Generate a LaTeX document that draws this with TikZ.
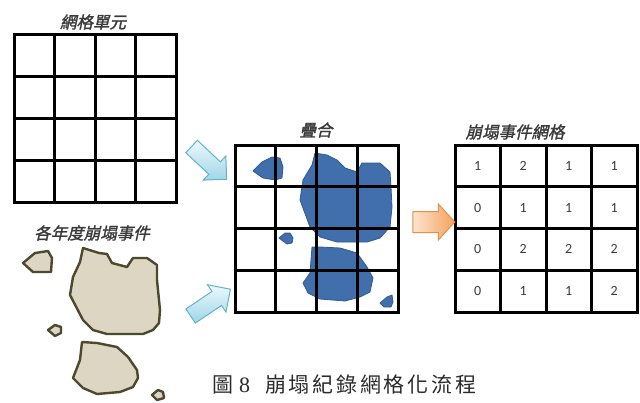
\documentclass[tikz,border=0pt]{standalone}
\usepackage{fontspec}
\setmainfont{Liberation Serif}
\newfontfamily\cjk{Noto Sans CJK TC}
\newfontfamily\cjkcap[LetterSpace=13]{Noto Sans CJK TC}
\newfontfamily\cjklabel[FakeSlant=0.22,FakeBold=1.5]{Noto Sans CJK TC}
\newfontfamily\numfont{Carlito}
\usetikzlibrary{shapes.arrows,calc}

\definecolor{gridink}{HTML}{000000}
\definecolor{labelink}{HTML}{3A3A3A}
\definecolor{capink}{HTML}{2A2A2A}
\definecolor{slidefill}{HTML}{DDD6C3}
\definecolor{slideedge}{HTML}{4B4A2D}
\definecolor{blobfill}{HTML}{406FAC}
\definecolor{blobedge}{HTML}{2E5B94}
\definecolor{arrowblueA}{HTML}{EDF8FC}
\definecolor{arrowblueB}{HTML}{9ED6E8}
\definecolor{arrowblueE}{HTML}{62B3CC}
\definecolor{arroworA}{HTML}{FDE4CE}
\definecolor{arroworB}{HTML}{F4A35C}
\definecolor{arroworE}{HTML}{E3904A}

\tikzset{
  gridbox/.style={draw=gridink, line width=3pt, inner sep=0pt, outer sep=0pt, anchor=north west},
  gridline/.style={draw=gridink, line width=3pt},
  title/.style={text=labelink, font=\cjklabel\fontsize{16.5}{18}\selectfont, inner sep=0pt},
  cellnum/.style={text=labelink, font=\numfont\fontsize{14}{16}\selectfont, inner sep=0pt},
  slide/.style={fill=slidefill, draw=slideedge, line width=2.4pt, line join=round},
  blob/.style={fill=blobfill, draw=blobedge, line width=0.8pt, line join=round},
  bluearrow/.style={shape=single arrow, draw=arrowblueE, line width=1pt,
    top color=arrowblueA, bottom color=arrowblueB, inner sep=8pt,
    minimum height=48pt, single arrow head extend=8pt, single arrow tip angle=90},
  orangearrow/.style={shape=single arrow, draw=arroworE, line width=1pt,
    left color=arroworA, right color=arroworB, inner sep=10pt,
    minimum height=42pt, single arrow head extend=7.5pt, single arrow tip angle=95},
}

\begin{document}
\begin{tikzpicture}[x=1pt,y=-1pt]
\useasboundingbox (0,0) rectangle (640,402);

% ---------- empty grid cells ----------
\node[title] (t1) at (93,22) {網格單元};
\node[gridbox, minimum width=162pt, minimum height=168pt] (g1) at (14,34) {};
\foreach \i in {1,2,3} {
  \draw[gridline] ($(g1.north west)!\i/4!(g1.north east)$) -- ($(g1.south west)!\i/4!(g1.south east)$);
  \draw[gridline] ($(g1.north west)!\i/4!(g1.south west)$) -- ($(g1.north east)!\i/4!(g1.south east)$);
}

% ---------- landslide polygons per year ----------
\node[title] (t2) at (92,233) {各年度崩塌事件};
\draw[slide] (23,263) -- (35,253) -- (48,251) -- (52,258) -- (51,272) -- (33,272) -- cycle;
\draw[slide] (83,248) -- (99,253) -- (107,254) -- (112,263) -- (127,267) -- (133,258) -- (147,258)
  -- (157,265) -- (157,280) -- (160,310) -- (159,323) -- (153,330) -- (143,334) -- (107,334)
  -- (93,330) -- (83,320) -- (70,295) -- (73,277) -- (80,262) -- cycle;
\draw[slide] (48,330) -- (55,325) -- (61,327) -- (61,333) -- (55,336) -- cycle;
\draw[slide] (82,342) -- (97,343) -- (117,347) -- (128,357) -- (137,370) -- (138,378) -- (133,387)
  -- (120,392) -- (97,394) -- (83,388) -- (73,378) -- (80,360) -- cycle;
\draw[slide] (152,395) -- (158,390) -- (163,392) -- (164,398) -- (157,400) -- cycle;

% ---------- overlay ----------
\node[title] (t3) at (316,130) {疊合};
\draw[blob] (253,171) -- (262,162) -- (272,157) -- (280,158) -- (283,167) -- (282,178) -- (275,180) -- (263,178) -- cycle;
\draw[blob] (315,153) -- (327,155) -- (337,160) -- (345,168) -- (357,172) -- (362,163) -- (380,163)
  -- (390,172) -- (391,187) -- (392,207) -- (390,227) -- (380,238) -- (367,242) -- (337,242)
  -- (320,237) -- (310,227) -- (300,200) -- (303,180) -- (312,165) -- cycle;
\draw[blob] (279,238) -- (285,233) -- (290,233) -- (293,238) -- (292,243) -- (287,244) -- cycle;
\draw[blob] (312,247) -- (320,247) -- (340,248) -- (357,253) -- (367,267) -- (373,278) -- (370,292)
  -- (360,297) -- (345,301) -- (320,299) -- (308,293) -- (303,283) -- (310,273) -- cycle;
\draw[blob] (380,303) -- (387,297) -- (392,295) -- (393,302) -- (391,307) -- (384,307) -- cycle;
\node[gridbox, minimum width=163pt, minimum height=167pt] (g2) at (235,145) {};
\foreach \i in {1,2,3} {
  \draw[gridline] ($(g2.north west)!\i/4!(g2.north east)$) -- ($(g2.south west)!\i/4!(g2.south east)$);
  \draw[gridline] ($(g2.north west)!\i/4!(g2.south west)$) -- ($(g2.north east)!\i/4!(g2.south east)$);
}

% ---------- gridded landslide counts ----------
\node[title] (t4) at (515,132) {崩塌事件網格};
\node[gridbox, minimum width=182pt, minimum height=167pt] (g3) at (455,145) {};
\foreach \i in {1,2,3} {
  \draw[gridline] ($(g3.north west)!\i/4!(g3.north east)$) -- ($(g3.south west)!\i/4!(g3.south east)$);
  \draw[gridline] ($(g3.north west)!\i/4!(g3.south west)$) -- ($(g3.north east)!\i/4!(g3.south east)$);
}
\foreach \r/\vals in {1/{1,2,1,1}, 2/{0,1,1,1}, 3/{0,2,2,2}, 4/{0,1,1,2}} {
  \foreach \v [count=\c] in \vals {
    \node[cellnum] (n\r\c) at ($(g3.north west)+({(\c-0.5)*182/4},{(\r-0.5)*167/4})$) {\v};
  }
}

% ---------- flow arrows ----------
\node[bluearrow, rotate=-43] (a1) at (206,160) {};
\node[bluearrow, rotate=34] (a2) at (207,305) {};
\node[orangearrow] (a3) at (429,222) {};

% ---------- caption ----------
\node[anchor=west, inner sep=0pt, text=capink] (cap) at (212,385)
  {\cjkcap\fontsize{21}{23}\selectfont 圖\hspace{6pt}{\rmfamily\fontsize{22}{24}\selectfont 8}\hspace{15pt}崩塌紀錄網格化流程};
\end{tikzpicture}
\end{document}
